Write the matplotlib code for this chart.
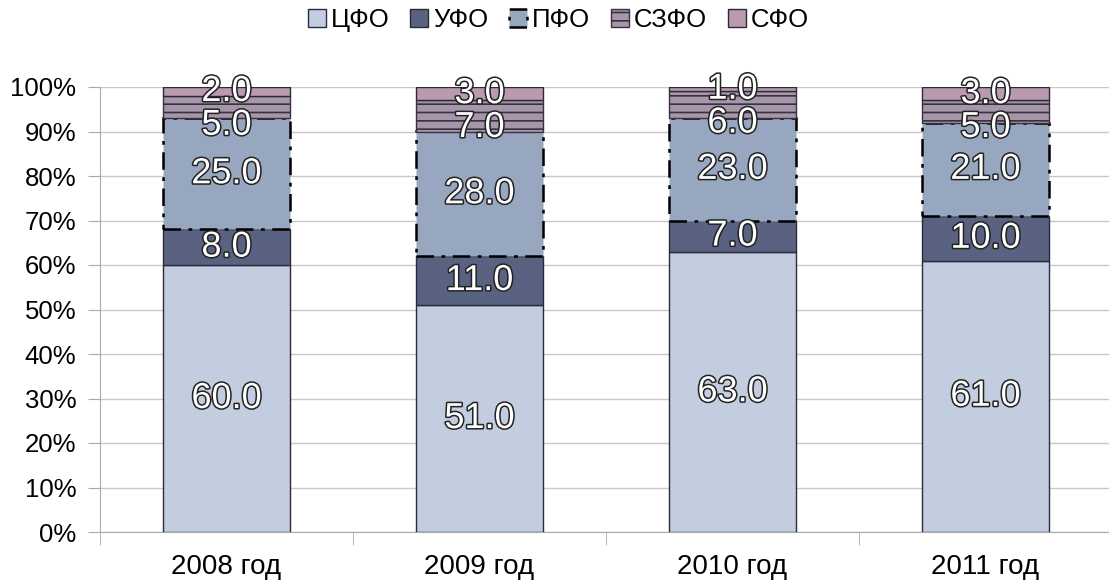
import matplotlib.pyplot as plt
import matplotlib.patheffects as pe
import numpy as np

plt.rcParams['font.family'] = ['Liberation Sans', 'DejaVu Sans']
plt.rcParams['hatch.linewidth'] = 1.2

years = ['2008 год', '2009 год', '2010 год', '2011 год']
series = ['ЦФО', 'УФО', 'ПФО', 'СЗФО', 'СФО']
cfo = [60.0, 51.0, 63.0, 61.0]
ufo = [8.0, 11.0, 7.0, 10.0]
pfo = [25.0, 28.0, 23.0, 21.0]
szfo = [5.0, 7.0, 6.0, 5.0]
sfo = [2.0, 3.0, 1.0, 3.0]

values = [cfo, ufo, pfo, szfo, sfo]
colors = ['#c3cde0', '#5a6282', '#97a7bf', '#a597a9', '#b99aae']

fig = plt.figure(figsize=(11.09, 5.83), dpi=100)
ax = fig.add_axes([100 / 1109, 1 - 532 / 583, 1012 / 1109, 445 / 583])

x = np.arange(len(years))
width = 0.5
bottom = np.zeros(len(years))
totals = np.sum(values, axis=0)
outline = [pe.withStroke(linewidth=2.2, foreground='#222222')]

# label centres per series, pushed apart later so thin segments stay readable
label_y = []
for i, (name, vals) in enumerate(zip(series, values)):
    share = np.array(vals) / totals * 100
    kw = dict(color=colors[i], edgecolor='#2a2a3a', linewidth=1.0, zorder=3)
    if name == 'ПФО':
        kw.update(edgecolor='black', linewidth=1.8, linestyle=(0, (7, 3, 1.5, 3)))
    if name == 'СЗФО':
        kw.update(hatch='--', edgecolor='#3a3040')
    ax.bar(x, share, width, bottom=bottom, label=name, **kw)
    label_y.append(bottom + share / 2)
    bottom += share

label_h = 7.6
for j in range(len(years)):
    prev = None
    for i in reversed(range(len(series))):
        y = label_y[i][j]
        if prev is not None and prev - y < label_h:
            y = prev - label_h
        label_y[i][j] = y
        prev = y

for i, vals in enumerate(values):
    for xi, y, v in zip(x, label_y[i], vals):
        ax.text(xi, y, f'{v:.1f}', ha='center', va='center',
                fontsize=26, color='white', path_effects=outline, zorder=5)

ax.set_ylim(0, 100)
ax.set_xlim(-0.5, len(years) - 0.5)
ax.set_yticks(range(0, 101, 10))
ax.set_yticklabels([f'{v}%' for v in range(0, 101, 10)], fontsize=18.5)
ax.set_xticks(x)
ax.set_xticklabels(years, fontsize=20)
ax.set_xticks(np.arange(-0.5, len(years)), minor=True)
ax.tick_params(axis='x', which='major', length=0, pad=16)
ax.tick_params(axis='x', which='minor', length=9, color='#aaaaaa')
ax.tick_params(axis='y', length=9, color='#aaaaaa', pad=8)
ax.grid(axis='y', color='#c8c8c8', linewidth=1, zorder=0)
ax.set_axisbelow(True)
for side in ['top', 'right']:
    ax.spines[side].set_visible(False)
for side in ['left', 'bottom']:
    ax.spines[side].set_color('#aaaaaa')

ax.legend(loc='upper center', bbox_to_anchor=(0.453, 1.23), ncol=5, frameon=False,
          fontsize=18.5, handlelength=0.7, handleheight=0.7, handletextpad=0.2,
          columnspacing=0.8)

fig.savefig('out.png', dpi=100)
